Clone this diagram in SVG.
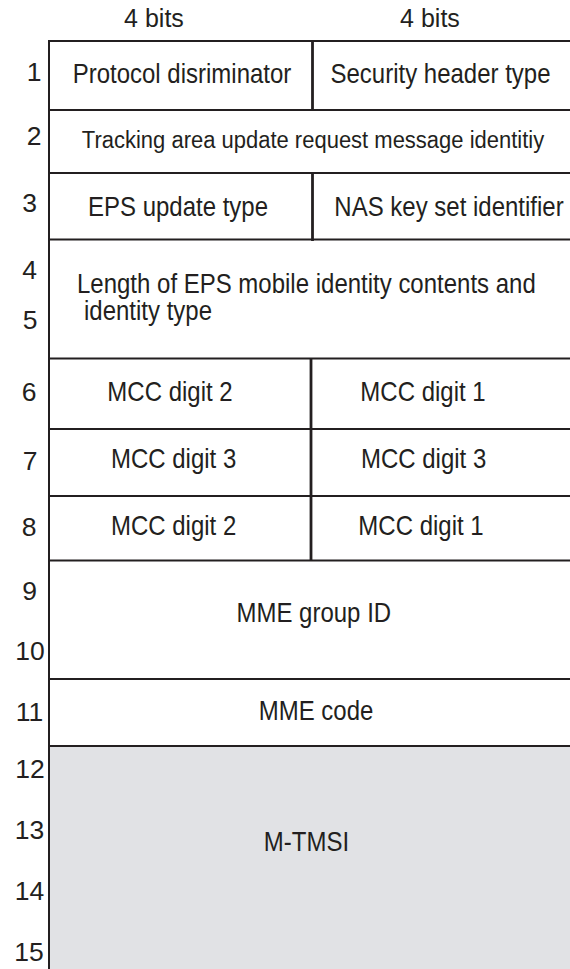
<svg xmlns="http://www.w3.org/2000/svg" width="570" height="969" viewBox="0 0 570 969">
<style>
  .t{font-family:"Liberation Sans",Arial,Helvetica,sans-serif;font-size:24px;fill:#231f20}
  .n{font-family:"Liberation Sans",Arial,Helvetica,sans-serif;font-size:26.5px;fill:#231f20;text-anchor:middle}
  .h{font-family:"Liberation Sans",Arial,Helvetica,sans-serif;font-size:25px;fill:#231f20;text-anchor:middle}
  .m{text-anchor:middle}
  .hl{stroke:#231f20;stroke-width:1.8;fill:none}
  .vl{stroke:#231f20;stroke-width:2.8;fill:none}
  .bl{stroke:#231f20;stroke-width:2;fill:none}
</style>
<rect x="0" y="0" width="570" height="969" fill="#ffffff"/>
<rect id="tmsi-fill" x="49" y="746" width="521" height="223" fill="#e1e2e5"/>

<g id="headers">
  <text class="h" x="154" y="26.5">4 bits</text>
  <text class="h" x="430" y="26.5">4 bits</text>
</g>

<g id="row-numbers">
  <text class="n" x="34" y="81">1</text>
  <text class="n" x="34" y="145">2</text>
  <text class="n" x="29.5" y="212">3</text>
  <text class="n" x="29.5" y="279">4</text>
  <text class="n" x="30" y="329">5</text>
  <text class="n" x="29" y="401">6</text>
  <text class="n" x="30" y="470">7</text>
  <text class="n" x="29" y="536">8</text>
  <text class="n" x="29.5" y="600">9</text>
  <text class="n" x="30" y="660">10</text>
  <text class="n" x="29.5" y="720.5">11</text>
  <text class="n" x="30" y="778">12</text>
  <text class="n" x="29.5" y="838.5">13</text>
  <text class="n" x="29.5" y="900">14</text>
  <text class="n" x="29" y="960.5">15</text>
</g>

<g id="grid">
  <line class="bl" x1="49" y1="40" x2="49" y2="969"/>
  <line class="hl" x1="48" y1="41" x2="570" y2="41"/>
  <line class="hl" x1="48" y1="110" x2="570" y2="110"/>
  <line class="hl" x1="48" y1="173" x2="570" y2="173"/>
  <line class="hl" x1="48" y1="239.5" x2="570" y2="239.5"/>
  <line class="hl" x1="48" y1="358.5" x2="570" y2="358.5"/>
  <line class="hl" x1="48" y1="429" x2="570" y2="429"/>
  <line class="hl" x1="48" y1="496" x2="570" y2="496"/>
  <line class="hl" x1="48" y1="560.5" x2="570" y2="560.5"/>
  <line class="hl" x1="48" y1="679" x2="570" y2="679"/>
  <line class="hl" x1="48" y1="746" x2="570" y2="746"/>
  <line class="vl" x1="312.5" y1="41" x2="312.5" y2="110"/>
  <line class="vl" x1="312.5" y1="173" x2="312.5" y2="241"/>
  <line class="vl" x1="311" y1="358.5" x2="311" y2="560.5"/>
</g>

<g id="protocol-discriminator">
  <text class="t m" transform="translate(182,83) scale(1,1.12)">Protocol disriminator</text>
</g>
<g id="security-header-type">
  <text class="t m" transform="translate(440.5,83) scale(1,1.12)">Security header type</text>
</g>
<g id="tau-request-identity">
  <text class="t m" style="font-size:22px" transform="translate(313,148) scale(1,1.12)">Tracking area update request message identitiy</text>
</g>
<g id="eps-update-type">
  <text class="t m" transform="translate(178,216) scale(1,1.12)">EPS update type</text>
</g>
<g id="nas-key-set-identifier">
  <text class="t m" transform="translate(449,216) scale(1,1.12)">NAS key set identifier</text>
</g>
<g id="eps-mobile-identity-length">
  <text class="t" transform="translate(77,293) scale(1,1.12)">Length of EPS mobile identity contents and</text>
  <text class="t" transform="translate(84,320) scale(1,1.12)">identity type</text>
</g>
<g id="row6-left">
  <text class="t m" transform="translate(170,401) scale(1,1.12)">MCC digit 2</text>
</g>
<g id="row6-right">
  <text class="t m" transform="translate(423,401) scale(1,1.12)">MCC digit 1</text>
</g>
<g id="row7-left">
  <text class="t m" transform="translate(173.6,468) scale(1,1.12)">MCC digit 3</text>
</g>
<g id="row7-right">
  <text class="t m" transform="translate(423.6,468) scale(1,1.12)">MCC digit 3</text>
</g>
<g id="row8-left">
  <text class="t m" transform="translate(173.6,535) scale(1,1.12)">MCC digit 2</text>
</g>
<g id="row8-right">
  <text class="t m" transform="translate(421,535) scale(1,1.12)">MCC digit 1</text>
</g>
<g id="mme-group-id">
  <text class="t m" transform="translate(313.8,622) scale(1,1.12)">MME group ID</text>
</g>
<g id="mme-code">
  <text class="t m" transform="translate(316,720) scale(1,1.12)">MME code</text>
</g>
<g id="m-tmsi">
  <text class="t m" transform="translate(306.5,851) scale(1,1.12)">M-TMSI</text>
</g>
</svg>
